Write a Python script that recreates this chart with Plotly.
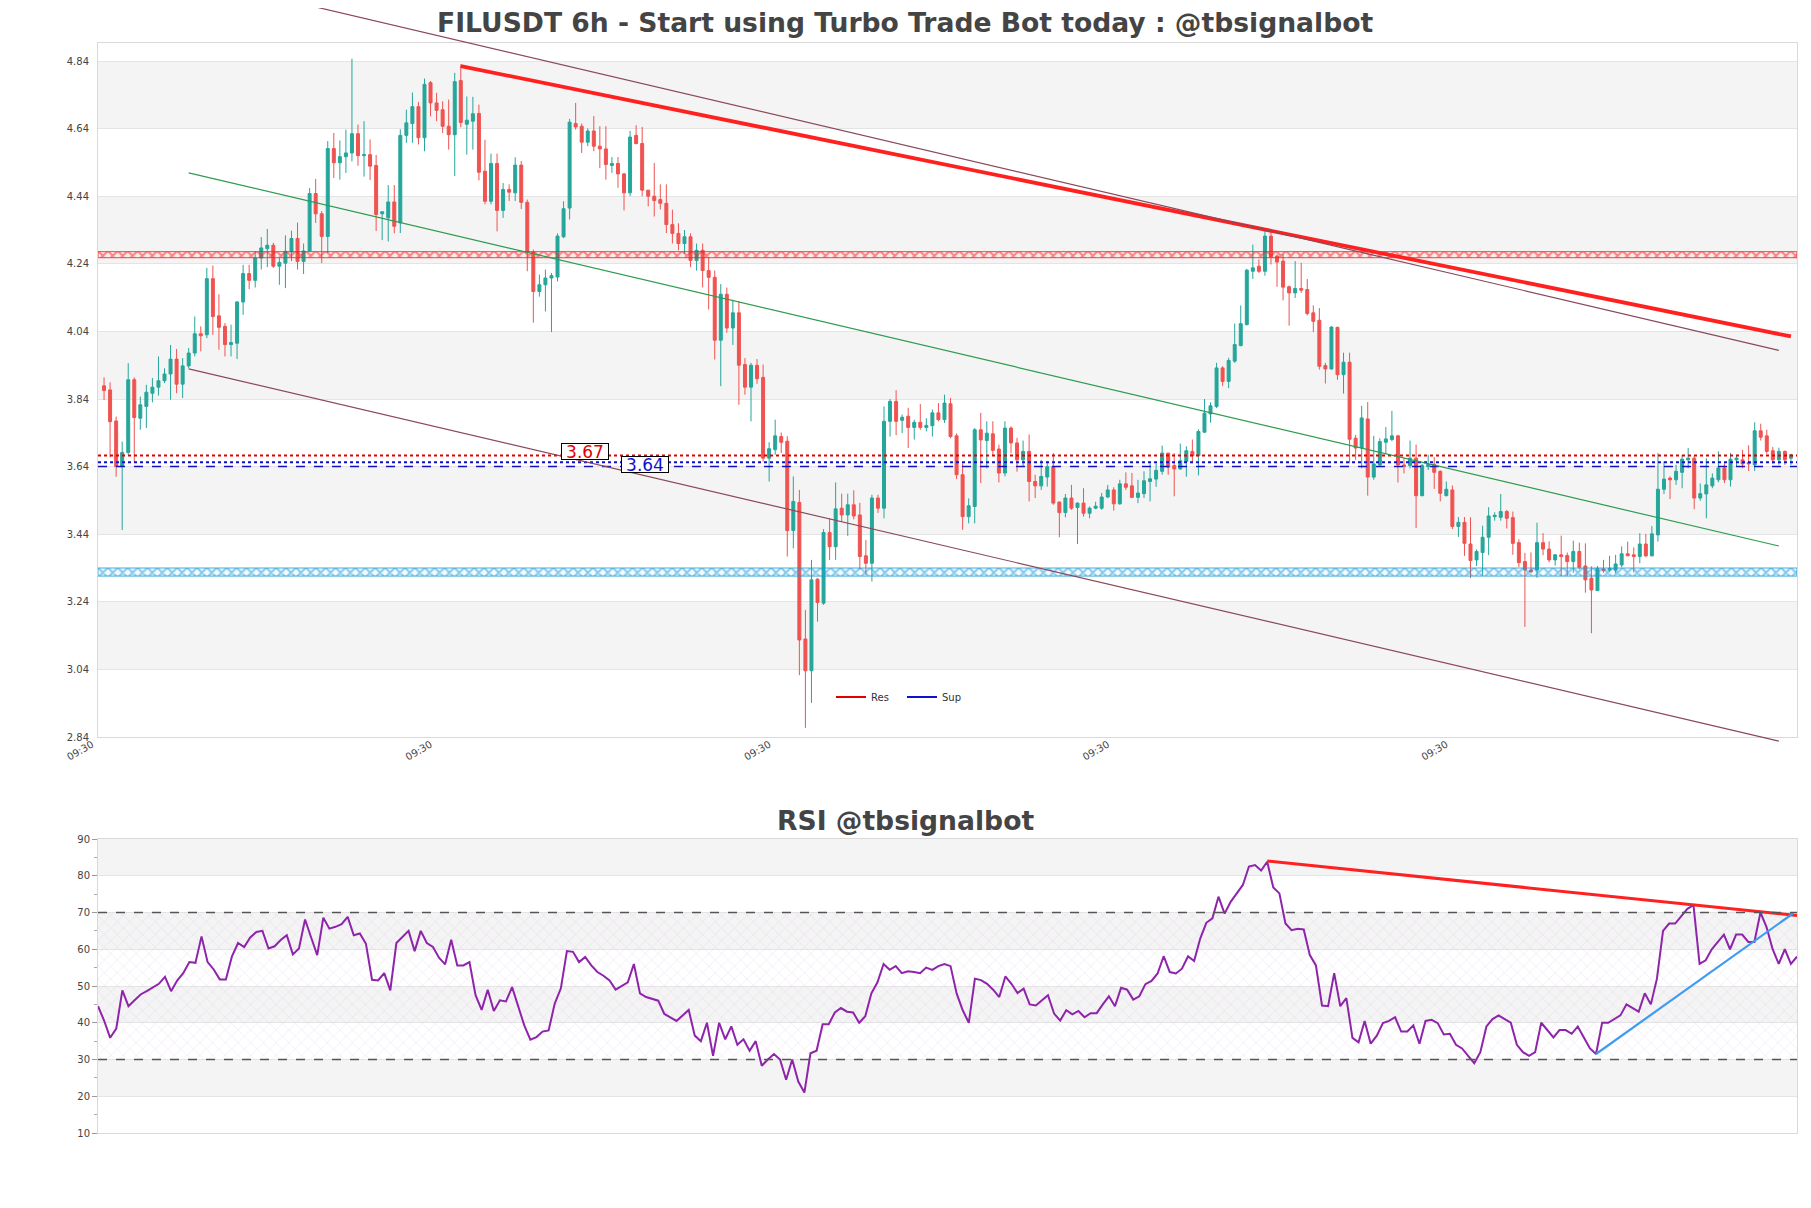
import plotly.graph_objects as go

W, H = 1811, 1208

# ---------------- data ----------------
opens = [
    3.879, 3.867, 3.775, 3.640, 3.682, 3.897, 3.783, 3.818, 3.857, 3.875,
    3.894, 3.914, 3.958, 3.884, 3.938, 3.976, 4.033, 4.030, 4.196, 4.086,
    4.055, 4.001, 4.005, 4.127, 4.211, 4.191, 4.257, 4.285, 4.295, 4.233,
    4.242, 4.275, 4.315, 4.247, 4.278, 4.448, 4.388, 4.321, 4.581, 4.539,
    4.557, 4.568, 4.625, 4.560, 4.563, 4.531, 4.388, 4.376, 4.423, 4.361,
    4.620, 4.655, 4.705, 4.613, 4.776, 4.716, 4.696, 4.647, 4.622, 4.782,
    4.653, 4.662, 4.685, 4.514, 4.425, 4.537, 4.398, 4.460, 4.450, 4.532,
    4.422, 4.274, 4.158, 4.178, 4.198, 4.201, 4.320, 4.405, 4.655, 4.647,
    4.600, 4.633, 4.588, 4.580, 4.531, 4.537, 4.506, 4.450, 4.620, 4.596,
    4.458, 4.440, 4.430, 4.419, 4.356, 4.330, 4.300, 4.320, 4.250, 4.280,
    4.220, 4.200, 4.014, 4.150, 4.050, 4.095, 3.942, 3.875, 3.940, 3.904,
    3.665, 3.690, 3.729, 3.715, 3.451, 3.534, 3.130, 3.036, 3.307, 3.236,
    3.445, 3.403, 3.517, 3.497, 3.527, 3.497, 3.376, 3.354, 3.547, 3.517,
    3.774, 3.833, 3.777, 3.789, 3.756, 3.771, 3.756, 3.761, 3.799, 3.779,
    3.826, 3.731, 3.616, 3.492, 3.522, 3.749, 3.717, 3.737, 3.692, 3.621,
    3.754, 3.710, 3.660, 3.685, 3.596, 3.583, 3.609, 3.640, 3.535, 3.504,
    3.547, 3.519, 3.532, 3.502, 3.517, 3.517, 3.550, 3.571, 3.530, 3.589,
    3.583, 3.549, 3.560, 3.596, 3.603, 3.626, 3.680, 3.643, 3.633, 3.655,
    3.685, 3.672, 3.742, 3.796, 3.818, 3.932, 3.892, 3.952, 3.998, 4.060,
    4.218, 4.233, 4.218, 4.322, 4.263, 4.248, 4.172, 4.154, 4.167, 4.164,
    4.095, 4.073, 3.939, 3.929, 4.052, 3.912, 3.949, 3.724, 3.695, 3.781,
    3.609, 3.645, 3.712, 3.720, 3.731, 3.645, 3.643, 3.665, 3.554, 3.640,
    3.647, 3.626, 3.554, 3.571, 3.463, 3.475, 3.411, 3.364, 3.386, 3.431,
    3.492, 3.490, 3.507, 3.489, 3.415, 3.359, 3.334, 3.334, 3.415, 3.396,
    3.364, 3.379, 3.377, 3.359, 3.389, 3.346, 3.310, 3.273, 3.337, 3.334,
    3.334, 3.349, 3.382, 3.379, 3.374, 3.411, 3.376, 3.438, 3.573, 3.606,
    3.601, 3.623, 3.660, 3.665, 3.547, 3.559, 3.583, 3.601, 3.636, 3.601,
    3.660, 3.660, 3.652, 3.645, 3.746, 3.731, 3.687, 3.660, 3.685, 3.665,
]
highs = [
    3.904, 3.889, 3.788, 3.714, 3.946, 3.904, 3.847, 3.882, 3.902, 3.966,
    3.931, 4.000, 3.988, 3.961, 3.991, 4.084, 4.055, 4.228, 4.235, 4.150,
    4.065, 4.060, 4.130, 4.237, 4.237, 4.277, 4.319, 4.343, 4.302, 4.257,
    4.324, 4.338, 4.362, 4.300, 4.464, 4.491, 4.396, 4.603, 4.627, 4.605,
    4.637, 4.847, 4.652, 4.662, 4.608, 4.562, 4.395, 4.473, 4.473, 4.638,
    4.696, 4.747, 4.719, 4.788, 4.781, 4.746, 4.721, 4.726, 4.805, 4.830,
    4.735, 4.734, 4.711, 4.607, 4.566, 4.566, 4.479, 4.475, 4.555, 4.544,
    4.430, 4.282, 4.208, 4.223, 4.213, 4.330, 4.425, 4.669, 4.716, 4.655,
    4.641, 4.677, 4.647, 4.647, 4.556, 4.556, 4.509, 4.633, 4.650, 4.645,
    4.458, 4.538, 4.475, 4.475, 4.400, 4.360, 4.340, 4.330, 4.300, 4.300,
    4.260, 4.220, 4.180, 4.170, 4.134, 4.130, 3.961, 3.947, 3.958, 3.942,
    3.712, 3.779, 3.741, 3.730, 3.611, 3.571, 3.216, 3.364, 3.310, 3.455,
    3.487, 3.593, 3.560, 3.560, 3.570, 3.533, 3.423, 3.557, 3.557, 3.818,
    3.840, 3.866, 3.794, 3.814, 3.779, 3.825, 3.783, 3.809, 3.828, 3.853,
    3.843, 3.738, 3.650, 3.546, 3.754, 3.799, 3.774, 3.774, 3.705, 3.774,
    3.759, 3.725, 3.717, 3.735, 3.616, 3.660, 3.655, 3.680, 3.537, 3.559,
    3.586, 3.534, 3.576, 3.522, 3.536, 3.562, 3.586, 3.579, 3.601, 3.623,
    3.621, 3.601, 3.626, 3.650, 3.650, 3.702, 3.680, 3.680, 3.708, 3.700,
    3.720, 3.750, 3.840, 3.830, 3.947, 3.937, 3.962, 4.063, 4.117, 4.225,
    4.297, 4.253, 4.342, 4.337, 4.268, 4.268, 4.176, 4.248, 4.243, 4.195,
    4.117, 4.109, 3.947, 4.055, 4.054, 3.977, 3.977, 3.734, 3.820, 3.831,
    3.731, 3.724, 3.757, 3.805, 3.734, 3.665, 3.717, 3.705, 3.648, 3.675,
    3.668, 3.629, 3.596, 3.584, 3.491, 3.491, 3.490, 3.395, 3.465, 3.520,
    3.505, 3.559, 3.512, 3.507, 3.425, 3.385, 3.386, 3.474, 3.443, 3.419,
    3.381, 3.436, 3.386, 3.421, 3.415, 3.413, 3.345, 3.346, 3.364, 3.376,
    3.379, 3.404, 3.418, 3.401, 3.443, 3.441, 3.464, 3.680, 3.655, 3.611,
    3.646, 3.675, 3.695, 3.672, 3.590, 3.665, 3.620, 3.685, 3.650, 3.680,
    3.675, 3.690, 3.703, 3.771, 3.767, 3.749, 3.698, 3.696, 3.688, 3.678,
]
lows = [
    3.837, 3.667, 3.610, 3.452, 3.675, 3.655, 3.749, 3.754, 3.830, 3.850,
    3.887, 3.838, 3.857, 3.843, 3.931, 3.966, 3.981, 4.020, 4.030, 3.986,
    3.966, 3.966, 3.958, 4.089, 4.165, 4.170, 4.223, 4.230, 4.228, 4.178,
    4.168, 4.248, 4.223, 4.210, 4.277, 4.361, 4.242, 4.272, 4.494, 4.489,
    4.509, 4.543, 4.530, 4.498, 4.488, 4.337, 4.310, 4.306, 4.330, 4.331,
    4.598, 4.598, 4.593, 4.573, 4.676, 4.662, 4.627, 4.578, 4.500, 4.644,
    4.563, 4.578, 4.487, 4.416, 4.416, 4.336, 4.376, 4.426, 4.426, 4.402,
    4.218, 4.066, 4.143, 4.099, 4.038, 4.188, 4.316, 4.371, 4.637, 4.568,
    4.588, 4.573, 4.523, 4.489, 4.509, 4.465, 4.398, 4.440, 4.593, 4.440,
    4.410, 4.380, 4.401, 4.331, 4.300, 4.280, 4.270, 4.230, 4.220, 4.170,
    4.105, 3.957, 3.878, 4.036, 4.000, 3.823, 3.853, 3.774, 3.885, 3.655,
    3.596, 3.675, 3.680, 3.374, 3.398, 3.023, 2.867, 2.941, 3.181, 3.231,
    3.364, 3.364, 3.477, 3.435, 3.484, 3.336, 3.320, 3.300, 3.503, 3.487,
    3.729, 3.733, 3.739, 3.695, 3.720, 3.749, 3.744, 3.729, 3.774, 3.769,
    3.724, 3.603, 3.453, 3.472, 3.472, 3.591, 3.635, 3.672, 3.593, 3.611,
    3.680, 3.625, 3.640, 3.537, 3.547, 3.571, 3.581, 3.527, 3.431, 3.490,
    3.512, 3.411, 3.492, 3.487, 3.514, 3.512, 3.547, 3.510, 3.527, 3.571,
    3.547, 3.532, 3.547, 3.537, 3.580, 3.616, 3.616, 3.552, 3.631, 3.610,
    3.650, 3.614, 3.739, 3.770, 3.813, 3.879, 3.872, 3.947, 3.996, 4.058,
    4.195, 4.213, 4.205, 4.238, 4.172, 4.132, 4.057, 4.139, 4.154, 4.087,
    4.038, 3.927, 3.886, 3.927, 3.897, 3.856, 3.650, 3.660, 3.635, 3.554,
    3.601, 3.640, 3.678, 3.715, 3.593, 3.620, 3.635, 3.458, 3.552, 3.630,
    3.574, 3.537, 3.552, 3.455, 3.432, 3.376, 3.310, 3.346, 3.317, 3.378,
    3.480, 3.480, 3.457, 3.379, 3.343, 3.166, 3.325, 3.311, 3.378, 3.357,
    3.347, 3.316, 3.316, 3.326, 3.336, 3.267, 3.147, 3.272, 3.326, 3.329,
    3.324, 3.342, 3.378, 3.327, 3.354, 3.372, 3.374, 3.418, 3.559, 3.544,
    3.586, 3.576, 3.635, 3.514, 3.539, 3.487, 3.576, 3.594, 3.591, 3.581,
    3.640, 3.635, 3.627, 3.627, 3.717, 3.678, 3.648, 3.646, 3.645, 3.645,
]
closes = [
    3.865, 3.773, 3.640, 3.682, 3.897, 3.785, 3.823, 3.860, 3.875, 3.894,
    3.914, 3.958, 3.884, 3.938, 3.976, 4.033, 4.027, 4.196, 4.084, 4.052,
    4.001, 4.007, 4.127, 4.211, 4.191, 4.257, 4.287, 4.295, 4.233, 4.244,
    4.277, 4.315, 4.247, 4.278, 4.448, 4.388, 4.321, 4.581, 4.539, 4.557,
    4.568, 4.625, 4.560, 4.563, 4.529, 4.386, 4.394, 4.423, 4.351, 4.620,
    4.657, 4.705, 4.613, 4.771, 4.716, 4.694, 4.647, 4.622, 4.779, 4.658,
    4.665, 4.684, 4.511, 4.425, 4.537, 4.398, 4.460, 4.452, 4.532, 4.422,
    4.274, 4.158, 4.178, 4.198, 4.205, 4.322, 4.403, 4.659, 4.645, 4.600,
    4.633, 4.588, 4.580, 4.534, 4.537, 4.506, 4.450, 4.615, 4.596, 4.458,
    4.440, 4.427, 4.419, 4.356, 4.330, 4.300, 4.320, 4.250, 4.280, 4.220,
    4.200, 4.014, 4.150, 4.050, 4.095, 3.940, 3.875, 3.940, 3.900, 3.665,
    3.693, 3.731, 3.712, 3.451, 3.537, 3.127, 3.036, 3.305, 3.238, 3.445,
    3.403, 3.515, 3.497, 3.527, 3.494, 3.374, 3.354, 3.547, 3.517, 3.774,
    3.833, 3.774, 3.786, 3.756, 3.771, 3.756, 3.762, 3.799, 3.779, 3.828,
    3.729, 3.616, 3.492, 3.524, 3.749, 3.719, 3.739, 3.688, 3.621, 3.754,
    3.710, 3.660, 3.685, 3.596, 3.583, 3.611, 3.640, 3.532, 3.504, 3.547,
    3.517, 3.532, 3.502, 3.517, 3.523, 3.550, 3.571, 3.530, 3.589, 3.579,
    3.549, 3.562, 3.598, 3.604, 3.629, 3.680, 3.638, 3.633, 3.657, 3.687,
    3.672, 3.744, 3.798, 3.820, 3.932, 3.892, 3.954, 4.001, 4.063, 4.221,
    4.228, 4.218, 4.322, 4.261, 4.245, 4.171, 4.154, 4.167, 4.162, 4.093,
    4.070, 3.937, 3.929, 4.053, 3.912, 3.949, 3.721, 3.695, 3.784, 3.609,
    3.648, 3.714, 3.722, 3.731, 3.645, 3.640, 3.665, 3.554, 3.643, 3.647,
    3.623, 3.561, 3.573, 3.463, 3.475, 3.413, 3.362, 3.389, 3.431, 3.494,
    3.496, 3.507, 3.487, 3.413, 3.356, 3.334, 3.329, 3.415, 3.396, 3.364,
    3.379, 3.374, 3.359, 3.389, 3.342, 3.305, 3.275, 3.339, 3.332, 3.339,
    3.352, 3.382, 3.376, 3.374, 3.411, 3.376, 3.441, 3.573, 3.603, 3.601,
    3.626, 3.662, 3.665, 3.547, 3.560, 3.586, 3.606, 3.636, 3.601, 3.662,
    3.665, 3.648, 3.648, 3.746, 3.727, 3.685, 3.660, 3.685, 3.660, 3.675,
]
rsi = [
    44.5, 40.6, 35.9, 38.4, 48.8, 44.5, 46.1, 47.7, 48.6, 49.5,
    50.6, 52.5, 48.6, 51.5, 53.5, 56.5, 56.3, 63.5, 56.5, 54.5,
    51.8, 51.8, 58.1, 61.7, 60.6, 63.2, 64.7, 65.0, 60.2, 60.8,
    62.5, 63.8, 58.6, 60.2, 68.1, 63.2, 58.4, 68.6, 65.6, 66.1,
    66.8, 68.8, 63.8, 64.3, 61.5, 51.7, 51.5, 53.5, 48.8, 61.7,
    63.4, 65.0, 59.5, 65.0, 61.7, 60.6, 57.7, 55.9, 62.6, 55.6,
    55.6, 56.5, 47.5, 43.5, 49.0, 43.2, 46.1, 45.8, 49.7, 44.5,
    39.3, 35.4, 36.1, 37.6, 37.9, 45.2, 49.3, 59.5, 59.3, 56.5,
    57.9, 55.6, 53.8, 52.8, 51.5, 49.0, 50.0, 51.0, 56.0, 48.0,
    47.0, 46.5, 46.0, 42.4, 41.5, 40.5, 42.0, 43.5, 36.5, 35.0,
    40.0, 31.0, 40.0, 35.5, 39.0, 34.0, 35.5, 32.4, 35.0, 28.3,
    30.0, 31.5, 30.0, 24.5, 30.0, 24.0, 21.0, 31.7, 32.4, 39.6,
    39.6, 42.8, 44.0, 43.0, 42.8, 40.0, 41.8, 48.0, 51.0, 56.0,
    54.4, 55.4, 53.5, 54.0, 53.8, 53.5, 55.0, 54.4, 55.4, 56.0,
    55.4, 48.0, 43.4, 40.0, 52.0, 51.6, 50.6, 49.0, 47.0, 52.6,
    50.6, 48.1, 49.3, 45.0, 44.7, 46.0, 47.5, 42.5, 40.6, 43.4,
    42.3, 43.2, 41.5, 42.6, 42.6, 45.0, 47.2, 44.5, 49.5, 49.0,
    46.3, 47.2, 50.5, 51.4, 53.4, 58.1, 53.8, 53.4, 54.7, 58.1,
    56.8, 62.9, 67.2, 68.4, 74.3, 69.7, 72.9, 75.2, 77.5, 82.5,
    82.9, 81.4, 83.8, 76.8, 75.2, 67.0, 65.2, 65.6, 65.4, 58.4,
    55.6, 44.7, 44.5, 53.5, 44.5, 46.7, 35.9, 34.7, 40.5, 34.3,
    36.5, 39.9, 40.5, 41.5, 37.6, 37.6, 39.3, 34.3, 40.5, 40.8,
    39.9, 36.8, 37.0, 34.0, 33.0, 31.0, 29.0, 32.0, 39.0, 41.0,
    42.0, 41.0, 40.0, 34.0, 32.0, 31.0, 32.0, 40.0, 38.0, 36.0,
    38.0, 38.0, 37.0, 39.0, 36.0, 33.0, 31.5, 40.0, 40.0, 41.0,
    42.0, 45.0, 44.0, 43.0, 48.0, 45.0, 52.0, 65.0, 67.0, 67.0,
    69.0, 71.0, 72.0, 56.0, 57.0, 60.0, 62.0, 64.0, 60.0, 64.0,
    64.0, 62.0, 62.0, 70.0, 66.0, 60.0, 56.0, 60.0, 56.0, 58.0,
]
candle_idx = list(range(len(opens)))

xtick_vals = [-1, 55, 111, 167, 223]
xtick_text = ["09:30", "09:30", "09:30", "09:30", "09:30"]
price_ticks = [2.84, 3.04, 3.24, 3.44, 3.64, 3.84, 4.04, 4.24, 4.44, 4.64, 4.84]
rsi_ticks = [10, 20, 30, 40, 50, 60, 70, 80, 90]
rsi_levels = [30, 70]

res_level = 3.673        # red dotted
sup_level = 3.653        # blue dotted
sup_dash_level = 3.640   # blue dashed
res_zone = [4.258, 4.276]
sup_zone = [3.316, 3.340]
res_label, sup_label = "3.67", "3.64"
res_label_x, sup_label_x = 79.5, 89.5

trend_res_x, trend_res_y = [59, 279], [4.825, 4.025]
chan_up_x, chan_up_y = [35, 277], [5.000, 3.984]
chan_mid_x, chan_mid_y = [14, 277], [4.509, 3.405]
chan_low_x, chan_low_y = [14, 277], [3.929, 2.828]
rsi_res_x, rsi_res_y = [192, 279], [84.0, 69.2]
rsi_sup_x, rsi_sup_y = [246, 278.4], [31.5, 69.8]

# ---------------- layout geometry (page body adds an 8px offset) ----------------
OFF = 8
def px_x(p):
    return (p - OFF) / W
def px_y(p):
    return 1 - (p - OFF) / H

X_DOM = [px_x(98), px_x(1797)]
Y_MAIN = [px_y(737), px_y(43)]
Y_RSI = [px_y(1133), px_y(839)]
X_RANGE = [-1, len(opens)]
Y_RANGE = [2.84, 4.8933]
RSI_XRANGE = [0, len(rsi) - 1]
RSI_YRANGE = [10, 90]

# overlay axis (same scale as the price axis) so channel lines may leave the box
Y3_DOM = [Y_MAIN[0] - 0.03, 1.0]
k = (Y_RANGE[1] - Y_RANGE[0]) / (Y_MAIN[1] - Y_MAIN[0])
Y3_RANGE = [Y_RANGE[0] - (Y_MAIN[0] - Y3_DOM[0]) * k, Y_RANGE[1] + (Y3_DOM[1] - Y_MAIN[1]) * k]

FONT = "DejaVu Sans"
TXT = "#444444"
BAND = "#f4f4f4"
GRID = "#e4e4e4"
BOX = "#d9d9d9"

fig = go.Figure()

# hatched zones
for zone, col, bg in [(res_zone, "#ff1a1a", "rgba(255,120,120,0.06)"),
                      (sup_zone, "#1a9ad6", "rgba(60,160,230,0.06)")]:
    fig.add_trace(go.Scatter(
        x=[X_RANGE[0], X_RANGE[1], X_RANGE[1], X_RANGE[0], X_RANGE[0]],
        y=[zone[0], zone[0], zone[1], zone[1], zone[0]],
        mode="lines", fill="toself", fillcolor=bg,
        fillpattern=dict(shape="x", fgcolor=col, bgcolor=bg, size=7, solidity=0.5),
        line=dict(color=col, width=0.8), hoverinfo="skip", showlegend=False,
        xaxis="x", yaxis="y"))

# candles
fig.add_trace(go.Candlestick(
    x=candle_idx, open=opens, high=highs, low=lows, close=closes,
    increasing=dict(line=dict(color="#26a69a", width=1), fillcolor="#26a69a"),
    decreasing=dict(line=dict(color="#ef5350", width=1), fillcolor="#ef5350"),
    whiskerwidth=0, showlegend=False, xaxis="x", yaxis="y"))

# support / resistance levels
fig.add_trace(go.Scatter(x=X_RANGE, y=[res_level] * 2, mode="lines",
                         line=dict(color="#e00000", width=2, dash="dot"),
                         showlegend=False, hoverinfo="skip", xaxis="x", yaxis="y"))
fig.add_trace(go.Scatter(x=X_RANGE, y=[sup_level] * 2, mode="lines",
                         line=dict(color="#1010d0", width=2, dash="dot"),
                         showlegend=False, hoverinfo="skip", xaxis="x", yaxis="y"))
fig.add_trace(go.Scatter(x=X_RANGE, y=[sup_dash_level] * 2, mode="lines",
                         line=dict(color="#1010c0", width=1.5, dash="dash"),
                         showlegend=False, hoverinfo="skip", xaxis="x", yaxis="y"))

# channel lines on the overlay axis
for xs, ys, col in [(chan_up_x, chan_up_y, "#8a4a5a"),
                    (chan_mid_x, chan_mid_y, "#2e9b4f"),
                    (chan_low_x, chan_low_y, "#8a4a5a")]:
    fig.add_trace(go.Scatter(x=xs, y=ys, mode="lines", line=dict(color=col, width=1.2),
                             showlegend=False, hoverinfo="skip", xaxis="x3", yaxis="y3"))

# resistance trend line
fig.add_trace(go.Scatter(x=trend_res_x, y=trend_res_y, mode="lines",
                         line=dict(color="#ff2020", width=3.8),
                         showlegend=False, hoverinfo="skip", xaxis="x", yaxis="y"))

# legend entries
fig.add_trace(go.Scatter(x=[None], y=[None], mode="lines", name="Res",
                         line=dict(color="#e00000", width=2), xaxis="x", yaxis="y"))
fig.add_trace(go.Scatter(x=[None], y=[None], mode="lines", name="Sup",
                         line=dict(color="#1010d0", width=2), xaxis="x", yaxis="y"))

# RSI hatched zone 30-70
fig.add_trace(go.Scatter(
    x=[RSI_XRANGE[0], RSI_XRANGE[1], RSI_XRANGE[1], RSI_XRANGE[0], RSI_XRANGE[0]],
    y=[rsi_levels[0], rsi_levels[0], rsi_levels[1], rsi_levels[1], rsi_levels[0]],
    mode="none", fill="toself", fillcolor="rgba(0,0,0,0)",
    fillpattern=dict(shape="x", fgcolor="rgba(195,165,215,0.75)", size=9, solidity=0.1),
    hoverinfo="skip", showlegend=False, xaxis="x2", yaxis="y2"))

fig.add_trace(go.Scatter(x=list(range(len(rsi))), y=rsi, mode="lines",
                         line=dict(color="#8e24aa", width=2),
                         showlegend=False, hoverinfo="skip", xaxis="x2", yaxis="y2"))
fig.add_trace(go.Scatter(x=rsi_res_x, y=rsi_res_y, mode="lines",
                         line=dict(color="#ff2020", width=3),
                         showlegend=False, hoverinfo="skip", xaxis="x2", yaxis="y2"))
fig.add_trace(go.Scatter(x=rsi_sup_x, y=rsi_sup_y, mode="lines",
                         line=dict(color="#3d9cf0", width=2.2),
                         showlegend=False, hoverinfo="skip", xaxis="x2", yaxis="y2"))

shapes = []
for i in range(len(price_ticks) - 1):
    if i % 2 == 1:
        shapes.append(dict(type="rect", xref="x domain", yref="y", x0=0, x1=1,
                           y0=price_ticks[i], y1=price_ticks[i + 1],
                           fillcolor=BAND, line=dict(width=0), layer="below"))
for i in range(len(rsi_ticks) - 1):
    if i % 2 == 1:
        shapes.append(dict(type="rect", xref="x2 domain", yref="y2", x0=0, x1=1,
                           y0=rsi_ticks[i], y1=rsi_ticks[i + 1],
                           fillcolor=BAND, line=dict(width=0), layer="below"))
for lv in rsi_levels:
    shapes.append(dict(type="line", xref="x2 domain", yref="y2", x0=0, x1=1, y0=lv, y1=lv,
                       line=dict(color="#555555", width=1.4, dash="dash"), layer="above"))

annotations = [
    dict(text="<b>FILUSDT 6h - Start using Turbo Trade Bot today : @tbsignalbot</b>",
         xref="paper", yref="paper", x=px_x(905), y=px_y(23), showarrow=False,
         font=dict(family=FONT, size=26.6, color=TXT), xanchor="center", yanchor="middle"),
    dict(text="<b>RSI @tbsignalbot</b>", xref="paper", yref="paper", x=px_x(905), y=px_y(820),
         showarrow=False, font=dict(family=FONT, size=26.6, color=TXT),
         xanchor="center", yanchor="middle"),
    dict(text=res_label, x=res_label_x, y=res_level, xref="x", yref="y", showarrow=False,
         yshift=4, width=46, height=15, font=dict(family=FONT, size=17, color="#e00000"),
         bgcolor="white", bordercolor="black", borderwidth=1, borderpad=0),
    dict(text=sup_label, x=sup_label_x, y=sup_dash_level, xref="x", yref="y", showarrow=False,
         yshift=2, width=46, height=15, font=dict(family=FONT, size=17, color="#1010d0"),
         bgcolor="white", bordercolor="black", borderwidth=1, borderpad=0),
]

axis_common = dict(showline=True, linecolor=BOX, linewidth=1, mirror=True, zeroline=False,
                   automargin=False, tickfont=dict(family=FONT, size=10, color=TXT))

fig.update_layout(
    width=W, height=H, margin=dict(l=0, r=0, t=0, b=0, pad=0, autoexpand=False),
    paper_bgcolor="white", plot_bgcolor="rgba(0,0,0,0)",
    font=dict(family=FONT, color=TXT),
    showlegend=True,
    legend=dict(orientation="h", x=px_x(831), y=px_y(697), xanchor="left", yanchor="middle",
                bgcolor="rgba(0,0,0,0)", font=dict(family=FONT, size=10, color="#333"),
                itemwidth=30, entrywidth=26, entrywidthmode="pixels"),
    xaxis=dict(domain=X_DOM, range=X_RANGE, anchor="y", showgrid=False,
               tickmode="array", tickvals=xtick_vals, ticktext=xtick_text, tickangle=-30,
               ticks="", ticklabelshift=-6, ticklabelstandoff=-3,
               rangeslider=dict(visible=False), **axis_common),
    yaxis=dict(domain=Y_MAIN, range=Y_RANGE, anchor="x", tickmode="array",
               tickvals=price_ticks, ticktext=[f"{v:.2f}" for v in price_ticks],
               showgrid=True, gridcolor=GRID, ticks="outside", ticklen=6,
               tickcolor="rgba(0,0,0,0)", **axis_common),
    xaxis2=dict(domain=X_DOM, range=RSI_XRANGE, anchor="y2", showgrid=False,
                showticklabels=False, ticks="", **axis_common),
    yaxis2=dict(domain=Y_RSI, range=RSI_YRANGE, anchor="x2", tickmode="array",
                tickvals=rsi_ticks, showgrid=True, gridcolor=GRID, ticks="outside",
                ticklen=5, tickcolor="#999999",
                minor=dict(ticks="outside", ticklen=3, tickcolor="#aaaaaa", dtick=5, showgrid=False),
                **axis_common),
    xaxis3=dict(domain=X_DOM, range=X_RANGE, anchor="y3", visible=False, automargin=False),
    yaxis3=dict(domain=Y3_DOM, range=Y3_RANGE, anchor="x3", visible=False, automargin=False),
    shapes=shapes, annotations=annotations,
)

fig.write_html("out.html")
